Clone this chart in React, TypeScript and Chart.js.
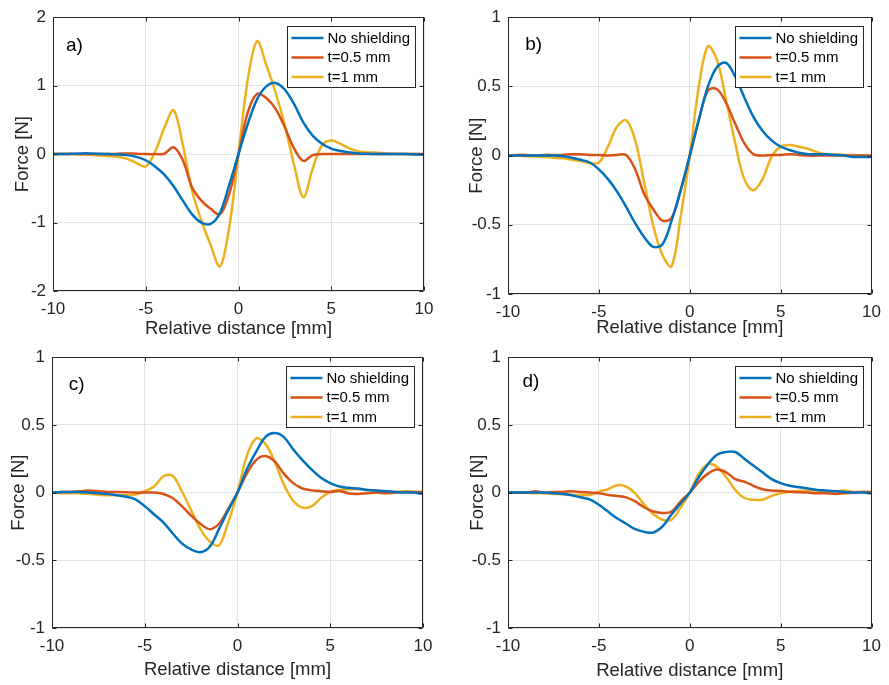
import React, { useEffect, useRef } from "react";
import { Chart, registerables } from "chart.js";
Chart.register(...registerables);

// Relative distance [mm]
const X = [-10, -9.5, -9, -8.5, -8, -7.5, -7, -6.5, -6, -5.5, -5, -4.5, -4, -3.5, -3, -2.5, -2, -1.5, -1, -0.5, 0, 0.5, 1, 1.5, 2, 2.5, 3, 3.5, 4, 4.5, 5, 5.5, 6, 6.5, 7, 7.5, 8, 8.5, 9, 9.5, 10];

const SERIES_NAMES = ["No shielding", "t=0.5 mm", "t=1 mm"];
const PANEL_LABELS = ["a)", "b)", "c)", "d)"];
const X_TICKS = [-10, -5, 0, 5, 10];
const Y_MIN = [-2, -1, -1, -1];
const Y_MAX = [2, 1, 1, 1];
const Y_STEP = [1, 0.5, 0.5, 0.5];
// panel label positions in data coordinates [x, y]
const LABEL_X = [-9.3, -9.05, -9.1, -9.2];
const LABEL_Y = [1.58, 0.8, 0.8, 0.82];

// Panel a
const A_NONE = [0, 0, 0.005, 0.01, 0.01, 0.005, 0, -0.005, -0.015, -0.04, -0.09, -0.18, -0.3, -0.47, -0.68, -0.88, -1.0, -1.02, -0.86, -0.45, 0, 0.44, 0.8, 0.99, 1.04, 0.94, 0.73, 0.46, 0.27, 0.15, 0.08, 0.045, 0.025, 0.01, 0.005, 0, 0, 0, 0, -0.005, -0.005];
const A_T05 = [0, 0, 0, 0, 0, 0, 0, 0.005, 0.01, 0.005, 0, 0, 0.005, 0.1, -0.09, -0.49, -0.68, -0.8, -0.88, -0.58, 0, 0.61, 0.88, 0.82, 0.66, 0.39, 0.08, -0.1, -0.015, 0, 0, 0, 0, 0, 0, 0, 0, 0, 0, 0, 0];
const A_T1 = [0, 0.005, 0, -0.005, -0.01, -0.02, -0.03, -0.04, -0.07, -0.13, -0.18, 0.03, 0.38, 0.64, 0.13, -0.54, -0.97, -1.33, -1.64, -1.07, 0, 1.09, 1.65, 1.3, 0.9, 0.42, -0.16, -0.63, -0.21, 0.13, 0.2, 0.15, 0.08, 0.04, 0.025, 0.02, 0.01, 0.005, 0, 0, 0];

// Panel b
const B_NONE = [0, 0, 0, 0, 0, 0, -0.005, -0.015, -0.03, -0.05, -0.1, -0.17, -0.26, -0.37, -0.49, -0.59, -0.66, -0.64, -0.47, -0.25, 0, 0.26, 0.5, 0.64, 0.67, 0.57, 0.42, 0.28, 0.18, 0.11, 0.065, 0.04, 0.02, 0.01, 0.01, 0.01, 0.005, 0, -0.01, -0.01, -0.01];
const B_T05 = [0, 0.005, 0.005, 0, 0.005, 0.005, 0.005, 0.01, 0.01, 0.005, 0.005, 0, 0.005, 0.005, -0.1, -0.28, -0.39, -0.47, -0.45, -0.25, 0, 0.26, 0.47, 0.48, 0.38, 0.23, 0.09, 0.01, 0, 0.005, 0.005, 0.01, 0.005, 0, 0, 0, 0, 0, 0, 0, 0];
const B_T1 = [0, 0, -0.005, -0.005, -0.01, -0.015, -0.02, -0.03, -0.04, -0.055, -0.05, 0.065, 0.21, 0.255, 0.11, -0.2, -0.51, -0.72, -0.8, -0.44, 0, 0.5, 0.79, 0.69, 0.4, 0.09, -0.17, -0.25, -0.17, -0.01, 0.065, 0.077, 0.065, 0.05, 0.025, 0.01, 0.01, 0.005, 0.005, 0, 0];

// Panel c
const C_NONE = [0, 0.005, 0.005, 0.005, 0, -0.005, -0.01, -0.02, -0.03, -0.05, -0.1, -0.16, -0.22, -0.3, -0.375, -0.42, -0.44, -0.4, -0.27, -0.13, 0, 0.17, 0.3, 0.41, 0.44, 0.41, 0.32, 0.24, 0.17, 0.11, 0.07, 0.045, 0.035, 0.03, 0.02, 0.015, 0.01, 0.005, 0, 0, -0.01];
const C_T05 = [0, 0.005, 0.005, 0.01, 0.015, 0.01, 0.005, 0.005, 0.003, 0, 0, 0, -0.01, -0.04, -0.1, -0.17, -0.23, -0.27, -0.23, -0.12, 0, 0.14, 0.24, 0.27, 0.23, 0.14, 0.07, 0.03, 0.017, 0.01, 0.005, 0.012, -0.007, -0.01, -0.005, 0, -0.005, 0, 0.005, 0.005, 0.005];
const C_T1 = [0, -0.005, -0.005, -0.005, -0.01, -0.015, -0.02, -0.02, -0.02, -0.015, 0.01, 0.045, 0.12, 0.125, 0.01, -0.13, -0.27, -0.36, -0.39, -0.22, 0, 0.27, 0.4, 0.36, 0.23, 0.06, -0.06, -0.11, -0.1, -0.04, 0.005, 0.02, 0.025, 0.025, 0.02, 0.015, 0.01, 0.005, 0.01, 0.005, 0.005];

// Panel d
const D_NONE = [0, 0, 0, 0, 0, -0.005, -0.01, -0.02, -0.035, -0.05, -0.09, -0.14, -0.19, -0.23, -0.27, -0.29, -0.295, -0.25, -0.16, -0.08, 0, 0.115, 0.21, 0.28, 0.3, 0.3, 0.25, 0.2, 0.15, 0.1, 0.07, 0.05, 0.04, 0.03, 0.02, 0.015, 0.01, 0.005, 0, 0, -0.005];
const D_T05 = [0, 0, 0, 0.01, 0, 0.005, 0.005, 0.01, 0.005, 0, -0.005, -0.017, -0.025, -0.035, -0.065, -0.11, -0.14, -0.15, -0.14, -0.065, 0, 0.08, 0.14, 0.17, 0.15, 0.1, 0.08, 0.05, 0.025, 0.015, 0.012, 0.007, 0.002, 0, -0.005, -0.005, -0.01, -0.005, 0, 0.005, 0.005];
const D_T1 = [0, 0, 0, -0.005, -0.005, -0.01, -0.01, -0.015, -0.017, -0.017, 0.007, 0.025, 0.055, 0.045, -0.005, -0.09, -0.16, -0.2, -0.2, -0.11, 0, 0.14, 0.21, 0.19, 0.115, 0.02, -0.04, -0.053, -0.053, -0.024, -0.005, 0.007, 0.012, 0.015, 0.015, 0.01, 0.01, 0.015, 0.005, 0.005, 0.005];

const PANEL_SERIES = [
  [A_NONE, A_T05, A_T1],
  [B_NONE, B_T05, B_T1],
  [C_NONE, C_T05, C_T1],
  [D_NONE, D_T05, D_T1],
];

const COLORS = ["#0072BD", "#D95319", "#EDB120"];
const FONT = '"Liberation Sans", Arial, Helvetica, sans-serif';
const AXIS_COLOR = "#262626";

// Layout of each panel's canvas (pixels)
const LAYOUT = [
  { left: 0, top: 0, w: 444, h: 340, padTop: 13, padRight: 20, yW: 53, xH: 49, yTitlePad: 12, xTitlePad: 0 },
  { left: 445, top: 0, w: 444, h: 340, padTop: 16, padRight: 11, yW: 63, xH: 46, yTitlePad: 21, xTitlePad: 1 },
  { left: 0, top: 340, w: 444, h: 345, padTop: 11, padRight: 21, yW: 52, xH: 57, yTitlePad: 8, xTitlePad: 4 },
  { left: 445, top: 340, w: 444, h: 345, padTop: 11, padRight: 10, yW: 63, xH: 57, yTitlePad: 22, xTitlePad: 3 },
];

const fmtTick = (v: any) => String(Math.round(Number(v) * 100) / 100);

const decorPlugin = {
  id: "decor",
  afterDraw(chart: any, _args: any, opts: any) {
    const { ctx, chartArea: a } = chart;
    const xs = chart.scales.x;
    const ys = chart.scales.y;
    ctx.save();
    ctx.strokeStyle = AXIS_COLOR;
    ctx.lineWidth = 1;
    const L = Math.round(a.left) + 0.5;
    const R = Math.round(a.right) - 0.5;
    const T = Math.round(a.top) + 0.5;
    const B = Math.round(a.bottom) - 0.5;
    ctx.beginPath();
    ctx.rect(L, T, R - L, B - T);
    ctx.stroke();
    // inward tick marks
    const tl = 4;
    ctx.beginPath();
    xs.ticks.forEach((t: any) => {
      const px = Math.round(xs.getPixelForValue(t.value)) + 0.5;
      ctx.moveTo(px, B);
      ctx.lineTo(px, B - tl);
      ctx.moveTo(px, T);
      ctx.lineTo(px, T + tl);
    });
    ys.ticks.forEach((t: any) => {
      const py = Math.round(ys.getPixelForValue(t.value)) + 0.5;
      ctx.moveTo(L, py);
      ctx.lineTo(L + tl, py);
      ctx.moveTo(R, py);
      ctx.lineTo(R - tl, py);
    });
    ctx.stroke();

    // legend box
    const bw = 128;
    const bh = 61;
    const bx = Math.round(a.right - 9 - bw) + 0.5;
    const by = Math.round(a.top + 9) + 0.5;
    ctx.fillStyle = "#ffffff";
    ctx.fillRect(bx, by, bw, bh);
    ctx.strokeStyle = AXIS_COLOR;
    ctx.lineWidth = 1;
    ctx.strokeRect(bx, by, bw, bh);
    ctx.font = `15px ${FONT}`;
    ctx.textBaseline = "middle";
    ctx.textAlign = "left";
    chart.data.datasets.forEach((ds: any, i: number) => {
      const ry = by + 11.5 + i * 19.5;
      ctx.strokeStyle = ds.borderColor;
      ctx.lineWidth = 2.5;
      ctx.beginPath();
      ctx.moveTo(bx + 4, ry);
      ctx.lineTo(bx + 36, ry);
      ctx.stroke();
      ctx.fillStyle = "#000000";
      ctx.fillText(ds.label, bx + 40, ry + 0.5);
    });

    // panel label
    ctx.font = `19px ${FONT}`;
    ctx.fillStyle = "#000000";
    ctx.textBaseline = "middle";
    ctx.fillText(opts.label, xs.getPixelForValue(opts.lx), ys.getPixelForValue(opts.ly));
    ctx.restore();
  },
};

function Panel({ idx }: { idx: number }) {
  const ref = useRef<HTMLCanvasElement | null>(null);
  const lay = LAYOUT[idx];
  useEffect(() => {
    if (!ref.current) return;
    const series = PANEL_SERIES[idx];
    const chart = new Chart(ref.current, {
      type: "line",
      data: {
        datasets: series.map((arr, s) => ({
          label: SERIES_NAMES[s],
          data: X.map((x, i) => ({ x, y: arr[i] })),
          borderColor: COLORS[s],
          backgroundColor: COLORS[s],
          borderWidth: 2.5,
          pointRadius: 0,
          fill: false,
          tension: 0.35,
          borderJoinStyle: "round" as const,
          borderCapStyle: "round" as const,
        })),
      },
      options: {
        responsive: false,
        animation: false,
        events: [],
        layout: { padding: { top: lay.padTop, right: lay.padRight, left: 0, bottom: 0 } },
        plugins: {
          legend: { display: false },
          tooltip: { enabled: false },
          decor: { label: PANEL_LABELS[idx], lx: LABEL_X[idx], ly: LABEL_Y[idx] },
        } as any,
        scales: {
          x: {
            type: "linear",
            min: X_TICKS[0],
            max: X_TICKS[X_TICKS.length - 1],
            afterBuildTicks: (scale: any) => {
              scale.ticks = X_TICKS.map((v) => ({ value: v }));
            },
            afterFit: (scale: any) => {
              scale.height = lay.xH;
            },
            grid: { color: "#e4e4e4", lineWidth: 1, drawTicks: false },
            border: { display: false },
            ticks: { color: AXIS_COLOR, font: { size: 17, family: FONT }, padding: 8, maxRotation: 0, callback: fmtTick },
            title: {
              display: true,
              text: "Relative distance [mm]",
              color: AXIS_COLOR,
              font: { size: 18.5, family: FONT },
              padding: { top: 0, bottom: lay.xTitlePad },
            },
          },
          y: {
            type: "linear",
            min: Y_MIN[idx],
            max: Y_MAX[idx],
            ticks: { stepSize: Y_STEP[idx], color: AXIS_COLOR, font: { size: 17, family: FONT }, padding: 7, callback: fmtTick },
            afterFit: (scale: any) => {
              scale.width = lay.yW;
            },
            grid: { color: "#e4e4e4", lineWidth: 1, drawTicks: false },
            border: { display: false },
            title: {
              display: true,
              text: "Force [N]",
              color: AXIS_COLOR,
              font: { size: 18.5, family: FONT },
              padding: { top: lay.yTitlePad, bottom: 0 },
            },
          },
        },
      },
      plugins: [decorPlugin as any],
    });
    return () => chart.destroy();
  }, [idx]);
  return (
    <canvas
      ref={ref}
      width={lay.w}
      height={lay.h}
      style={{ position: "absolute", left: lay.left, top: lay.top, width: lay.w, height: lay.h }}
    />
  );
}

export default function App() {
  return (
    <div style={{ position: "absolute", left: 0, top: 0, width: 889, height: 685, background: "#ffffff" }}>
      {[0, 1, 2, 3].map((i) => (
        <Panel key={i} idx={i} />
      ))}
    </div>
  );
}
